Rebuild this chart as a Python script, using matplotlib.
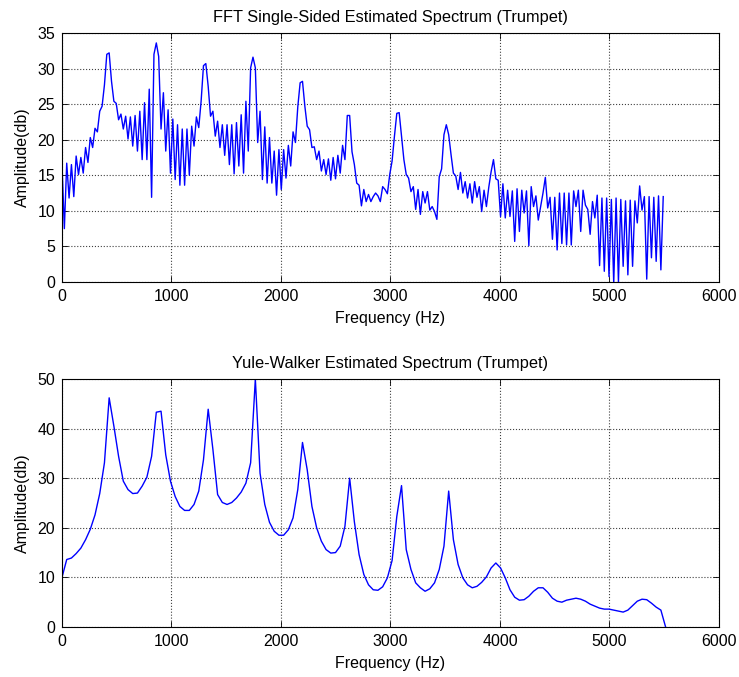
import numpy as np
import matplotlib
matplotlib.use("Agg")
import matplotlib.pyplot as plt

plt.rcParams['font.family'] = ['Liberation Sans', 'DejaVu Sans']

# ---- data ----
FS = 11025
NFFT = 512
NAR = 256

# FFT magnitude in dB, bins 0..255
fft_db = [
    16.5, 7.5, 16.7, 11.8, 16.5, 12.0, 17.7, 15.1, 17.5, 15.3,
    18.9, 16.8, 20.3, 18.9, 21.6, 21.1, 24.0, 24.7, 27.7, 32.0,
    32.2, 28.2, 25.4, 25.1, 22.8, 23.6, 21.5, 23.3, 20.1, 23.2,
    19.1, 23.4, 18.4, 24.0, 17.2, 25.2, 17.2, 27.1, 11.9, 32.0,
    33.6, 31.7, 21.5, 26.6,
    18.4, 24.2, 15.3, 22.9, 14.4, 22.1, 13.6, 21.5, 13.6, 21.5,
    15.0, 21.9, 19.1, 23.2, 21.7, 25.4, 30.4, 30.7, 27.5, 23.3,
    24.0, 20.5, 22.6, 18.9, 22.1, 17.8, 22.1, 16.5, 22.1, 15.2,
    22.4, 16.3, 23.5, 15.3, 25.4, 18.4, 30.1, 31.6, 30.1, 19.6,
    24.0, 14.4,
    21.8, 13.9, 20.3, 13.9, 18.4, 12.2, 18.6, 13.0, 18.6, 14.6,
    19.2, 16.3, 21.1, 19.6, 24.6, 28.0, 28.2, 24.7, 21.9, 21.4,
    18.9, 19.0, 17.2, 18.4, 15.6, 17.2, 15.1, 17.3, 14.3, 17.5,
    14.5, 17.8, 15.3, 19.2, 17.2, 23.4, 23.4, 18.3, 16.5, 13.9,
    13.6, 10.7, 13.0,
    11.3, 12.3, 11.3, 12.0, 12.5, 12.1, 11.3, 13.4, 13.0, 12.4,
    15.1, 17.0, 20.5, 23.7, 23.8, 20.5, 17.2, 15.1, 14.6, 12.7,
    13.4, 10.2, 13.0, 9.5, 12.7, 11.1, 12.7, 10.1, 10.6, 9.9,
    8.8, 14.8, 15.9, 20.7, 22.1, 20.7, 17.9, 15.3, 14.9, 13.0,
    15.4, 12.5,
    14.1, 11.8, 13.8, 11.1, 14.1, 11.9, 13.4, 9.9, 12.9, 10.6,
    13.3, 15.5, 17.2, 14.5, 14.3, 9.2, 13.8, 9.0, 12.9, 9.2,
    12.8, 5.7, 13.1, 7.1, 12.9, 9.7, 12.8, 5.1, 13.4, 10.6,
    12.1, 8.7, 10.6, 12.5, 14.7, 10.4, 11.9, 6.0, 11.9, 4.5,
    12.5,
    5.4, 12.5, 5.2, 12.5, 5.2, 12.8, 10.6, 12.9, 7.1, 12.9,
    10.8, 10.2, 6.7, 11.3, 9.0, 12.2, 2.3, 11.8, 1.5, 11.8,
    0.75, 11.6, -0.2, 11.8, 0.0, 11.6, 2.2, 11.4, 1.0, 11.5,
    2.2, 11.4, 8.3, 13.5, 10.1, 12.0, 0.4, 12.0, 3.4, 11.9,
    2.9, 12.1, 1.7, 12.0,
]

# Yule-Walker PSD in dB, bins 0..128
yw_db = [
    10.0, 13.6, 13.9, 14.8, 15.9, 17.6, 19.7, 22.6, 26.9, 33.1,
    46.2, 40.5, 34.4, 29.4, 27.7, 26.9, 27.0, 28.4, 30.2, 34.4,
    43.3, 43.5, 34.7, 29.4, 26.3, 24.3, 23.5, 23.5, 24.7, 27.4,
    33.7, 43.9, 35.8, 26.7, 25.1, 24.7, 25.1, 26.0, 27.2, 29.0,
    33.1, 50.0, 31.0, 24.7, 21.1, 19.3, 18.5, 18.5, 19.6, 22.0,
    27.7, 37.2, 31.7, 24.3, 20.0, 17.3, 15.6, 14.9, 15.0, 16.3,
    20.3, 30.0, 21.2, 14.6, 10.6, 8.5, 7.5, 7.4, 8.1, 9.9,
    13.4, 22.3, 28.5, 15.6, 11.6, 8.9, 7.9, 7.2, 7.7, 8.9,
    11.6, 16.3, 27.4, 17.6, 12.6, 9.9, 8.5, 7.9, 8.2, 9.0,
    10.1, 11.9, 12.9, 11.9, 9.9, 7.5, 6.0, 5.4, 5.5, 6.2,
    7.2, 7.9, 7.9, 7.0, 5.8, 5.2, 5.0, 5.4, 5.6, 5.8,
    5.6, 5.2, 4.6, 4.2, 3.8, 3.6, 3.6, 3.4, 3.2, 3.0,
    3.4, 4.3, 5.2, 5.6, 5.5, 4.8, 4.0, 3.4, 0.0,
]

fft_freq = np.arange(len(fft_db)) * FS / NFFT
yw_freq = np.arange(len(yw_db)) * FS / NAR

panels = [
    ('FFT Single-Sided Estimated Spectrum (Trumpet)', fft_freq, fft_db, 35, 5),
    ('Yule-Walker Estimated Spectrum (Trumpet)', yw_freq, yw_db, 50, 10),
]

fig = plt.figure(figsize=(7.39, 6.77), dpi=100)
boxes = [[0.0839, 0.5835, 0.889, 0.3678], [0.0839, 0.0739, 0.889, 0.3663]]

for box, (title, f, db, ymax, ystep) in zip(boxes, panels):
    ax = fig.add_axes(box)
    ax.plot(f, db, color='#0000ff', linewidth=1.0)
    ax.set_xlim(0, 6000)
    ax.set_ylim(0, ymax)
    ax.set_xticks(np.arange(0, 6001, 1000))
    ax.set_yticks(np.arange(0, ymax + 1, ystep))
    ax.grid(True, color='0.25', linestyle=':', linewidth=0.8)
    ax.tick_params(direction='in', top=True, right=True, length=4,
                   labelsize=11.5, width=0.6, pad=5)
    for s in ax.spines.values():
        s.set_linewidth(0.8)
    ax.set_title(title, fontsize=11.8, pad=8)
    ax.set_xlabel('Frequency (Hz)', fontsize=11.5, labelpad=5)
    ax.set_ylabel('Amplitude(db)', fontsize=11.5, labelpad=5)

plt.savefig('out.png', dpi=100)
